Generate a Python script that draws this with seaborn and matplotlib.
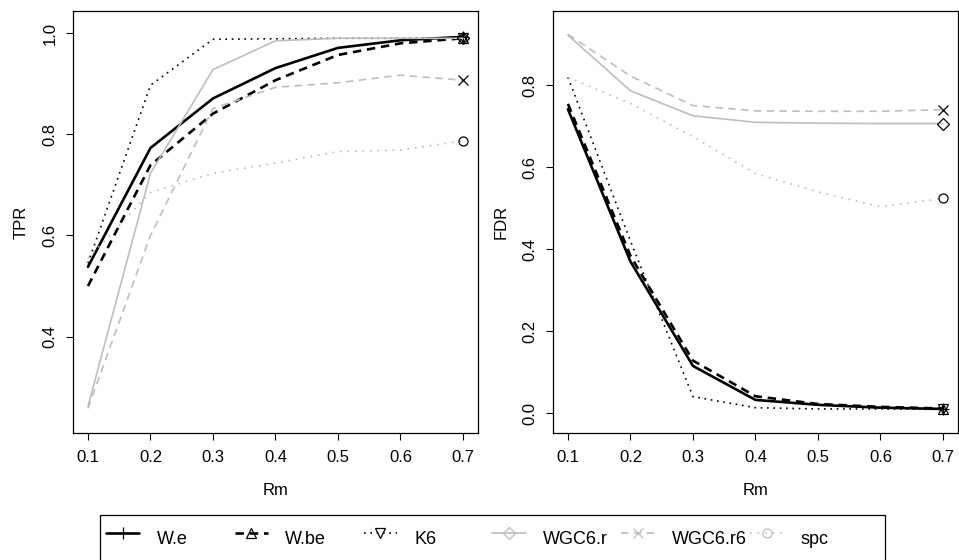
"""TPR / FDR against Rm for six network-inference methods (two panels, shared legend)."""

import matplotlib.pyplot as plt
import seaborn as sns
from matplotlib.lines import Line2D

rm = [0.1, 0.2, 0.3, 0.4, 0.5, 0.6, 0.7]
methods = ["W.e", "W.be", "K6", "WGC6.r", "WGC6.r6", "spc"]

# true positive rate per method
tpr_we = [0.538, 0.773, 0.871, 0.931, 0.971, 0.986, 0.993]
tpr_wbe = [0.500, 0.739, 0.841, 0.907, 0.957, 0.980, 0.990]
tpr_k6 = [0.545, 0.897, 0.988, 0.989, 0.990, 0.990, 0.991]
tpr_wgc6r = [0.262, 0.723, 0.928, 0.985, 0.990, 0.990, 0.990]
tpr_wgc6r6 = [0.258, 0.600, 0.851, 0.893, 0.902, 0.917, 0.907]
tpr_spc = [0.555, 0.685, 0.723, 0.743, 0.766, 0.769, 0.787]

# false discovery rate per method
fdr_we = [0.742, 0.370, 0.115, 0.032, 0.020, 0.013, 0.010]
fdr_wbe = [0.755, 0.384, 0.128, 0.041, 0.022, 0.015, 0.011]
fdr_k6 = [0.820, 0.420, 0.040, 0.013, 0.010, 0.010, 0.009]
fdr_wgc6r = [0.923, 0.787, 0.726, 0.710, 0.708, 0.707, 0.707]
fdr_wgc6r6 = [0.925, 0.823, 0.751, 0.738, 0.737, 0.737, 0.741]
fdr_spc = [0.820, 0.756, 0.675, 0.585, 0.540, 0.504, 0.524]

tpr = [tpr_we, tpr_wbe, tpr_k6, tpr_wgc6r, tpr_wgc6r6, tpr_spc]
fdr = [fdr_we, fdr_wbe, fdr_k6, fdr_wgc6r, fdr_wgc6r6, fdr_spc]

GREY = "#BEBEBE"
STYLES = [
    dict(color="black", lw=1.9, ls="-", marker="+", ms=8.5),
    dict(color="black", lw=1.9, ls=(0, (3.2, 2.2)), marker="^", ms=6.5),
    dict(color="black", lw=1.2, ls=(0, (1, 2.8)), marker="v", ms=6.5),
    dict(color=GREY, lw=1.2, ls="-", marker="D", ms=6),
    dict(color=GREY, lw=1.2, ls=(0, (4.5, 3.2)), marker="x", ms=6.5),
    dict(color=GREY, lw=1.2, ls=(0, (1, 3.5)), marker="o", ms=6.5),
]

sns.set_theme(style="white", rc={
    "text.color": "black", "axes.labelcolor": "black",
    "xtick.color": "black", "ytick.color": "black",
})
plt.rcParams["font.family"] = ["Liberation Sans", "DejaVu Sans"]


def draw_panel(ax, series, ylabel, ylim, yticks):
    for vals, st in zip(series, STYLES):
        # R-style: markers only on the last point, always in black
        sns.lineplot(
            x=rm, y=vals, ax=ax, color=st["color"], linewidth=st["lw"],
            linestyle=st["ls"], marker=st["marker"], markersize=st["ms"],
            markevery=[len(rm) - 1], markerfacecolor="none",
            markeredgecolor="black", markeredgewidth=0.9,
        )
    ax.set_xlim(0.076, 0.724)
    ax.set_ylim(*ylim)
    ax.set_xticks(rm)
    ax.set_xticklabels([f"{v:.1f}" for v in rm])
    ax.set_yticks(yticks)
    ax.set_yticklabels([f"{v:.1f}" for v in yticks])
    ax.set_xlabel("Rm", fontsize=12, labelpad=13)
    ax.set_ylabel(ylabel, fontsize=12, labelpad=10)
    for side in ax.spines.values():
        side.set_color("black")
        side.set_linewidth(0.9)
    ax.tick_params(axis="both", direction="out", length=5, width=0.8,
                   color="black", labelsize=12, bottom=True, left=True)
    ax.tick_params(axis="x", pad=7.5)
    ax.tick_params(axis="y", pad=6)
    plt.setp(ax.get_yticklabels(), rotation=90, va="center", ha="right")


fig = plt.figure(figsize=(9.59, 5.6), dpi=100)
ax_tpr = fig.add_axes([0.0761, 0.2268, 0.4223, 0.7536])
ax_fdr = fig.add_axes([0.5766, 0.2268, 0.4223, 0.7536])

draw_panel(ax_tpr, tpr, "TPR", (0.2093, 1.044), [0.4, 0.6, 0.8, 1.0])
draw_panel(ax_fdr, fdr, "FDR", (-0.0488, 0.982), [0.0, 0.2, 0.4, 0.6, 0.8])

handles = [
    Line2D([], [], color=st["color"], lw=st["lw"], ls=st["ls"],
           marker=st["marker"], ms=st["ms"], mfc="none",
           mec=st["color"], mew=0.9)
    for st in STYLES
]
leg = fig.legend(
    handles, methods, loc="upper left", bbox_to_anchor=(100 / 959, 1 - 515 / 560),
    ncol=6, fontsize=13, frameon=True, fancybox=False, framealpha=1,
    edgecolor="black", borderaxespad=0, borderpad=0.33, handlelength=1.85,
    handletextpad=0.95, columnspacing=0.18, handleheight=2.7, numpoints=1,
)
leg.get_frame().set_linewidth(0.9)
# R lays legend columns out at equal widths
leg._legend_handle_box.mode = "equal"

fig.savefig("out.png", dpi=100)
